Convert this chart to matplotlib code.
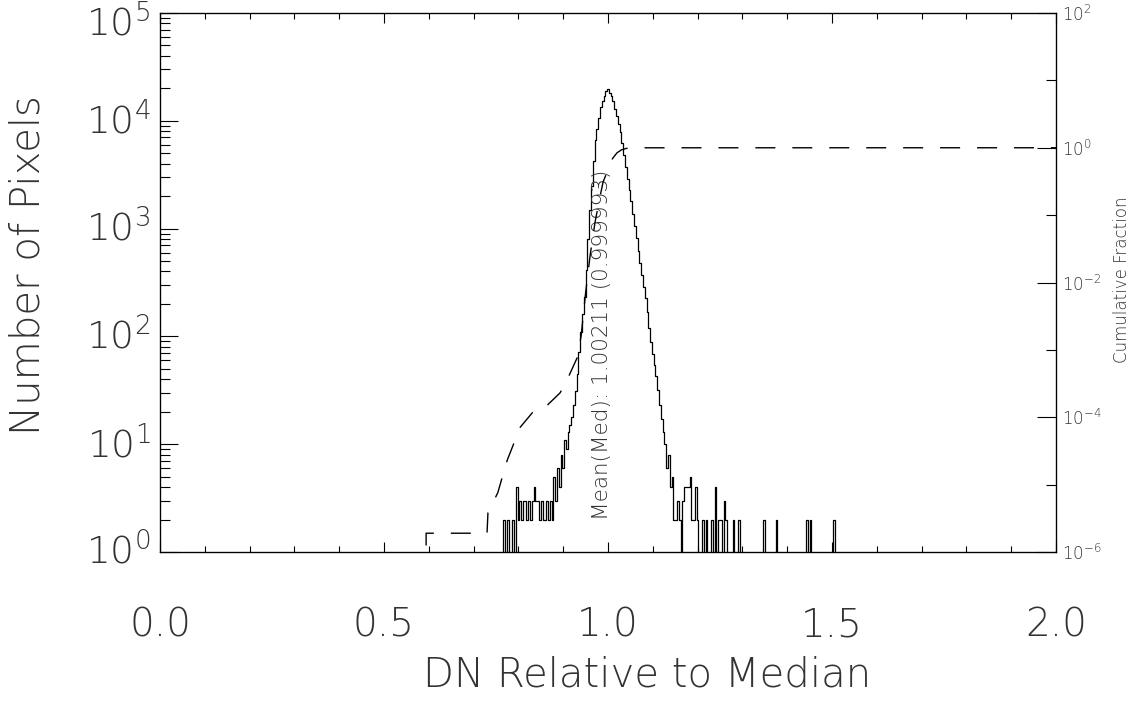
import numpy as np
import matplotlib
matplotlib.use('Agg')
import matplotlib.pyplot as plt
import matplotlib.transforms as mtransforms
from matplotlib.ticker import FixedLocator, NullFormatter, MultipleLocator, LogLocator

plt.rcParams['font.family'] = 'DejaVu Sans'
plt.rcParams['font.weight'] = 'light'
plt.rcParams['mathtext.fontset'] = 'custom'
plt.rcParams['mathtext.rm'] = 'DejaVu Sans:light'
plt.rcParams['mathtext.it'] = 'DejaVu Sans:light'
plt.rcParams['text.color'] = '#333333'

# histogram (bin width 0.004), core part
bin_width = 0.004
grid_start = 0.502
grid_end = 1.602
core_start = 0.870
core_counts = [3, 2, 5, 3, 6, 4, 8, 6, 11, 9,
               13, 15, 18, 23, 31, 45, 71, 110, 162, 234,
               417, 794, 1500, 2500, 4270, 6700, 8400, 10600, 13300, 15300,
               17000, 18900, 19900, 18200, 17100, 15300, 13000, 11000, 9400, 7900,
               6200, 4800, 3700, 2900, 2300, 1800, 1360, 1050, 810, 620,
               480, 370, 290, 225, 170, 120, 89, 69, 54, 43,
               32, 23, 17, 13, 10, 6, 8, 4, 5, 2]

# sparse tails (bins with 2..5 pixels)
left_tail_x = [0.768, 0.776, 0.788, 0.796, 0.800, 0.804, 0.808, 0.812, 0.816, 0.820, 0.824,
               0.828, 0.832, 0.836, 0.840, 0.844, 0.848, 0.852, 0.856, 0.860, 0.864, 0.868]
left_tail_n = [2, 2, 2, 4, 2, 3, 2, 3, 3, 2, 3,
               2, 3, 4, 3, 3, 2, 3, 2, 2, 3, 2]
right_tail_x = [1.152, 1.156, 1.160, 1.168, 1.172, 1.176, 1.180, 1.184, 1.188, 1.192, 1.196,
                1.200, 1.212, 1.220, 1.232, 1.240, 1.248, 1.252, 1.260, 1.264, 1.280, 1.292,
                1.348, 1.376, 1.444, 1.452, 1.504]
right_tail_n = [2, 3, 2, 3, 4, 4, 4, 5, 2, 2, 4,
                2, 2, 2, 2, 4, 2, 2, 3, 2, 2, 2,
                2, 2, 2, 2, 2]

# cumulative fraction (right axis)
cum_x = [0.594, 0.594, 0.730, 0.732, 0.754, 0.775, 0.804, 0.837, 0.864, 0.893, 0.908, 0.931,
         0.940, 0.950, 0.960, 0.971, 0.980, 0.989, 1.004, 1.010, 1.020, 1.030, 1.040, 1.050,
         1.070, 2.000]
cum_frac = [1e-7, 1.9e-6, 1.9e-6, 3.8e-6, 7.6e-6, 2.3e-5, 7.1e-5, 1.3e-4, 1.5e-4, 2.3e-4, 3.5e-4, 7.6e-4,
            1.6e-3, 7e-3, 2.5e-2, 7.8e-2, 0.16, 0.31, 0.55, 0.69, 0.84, 0.93, 0.975, 0.993,
            0.999, 1.0]

x_ticks = [0.0, 0.5, 1.0, 1.5, 2.0]
x_ticklabels = ['0.0', '0.5', '1.0', '1.5', '2.0']
y_exps = [0, 1, 2, 3, 4, 5]
cum_exps = [-6, -4, -2, 0, 2]
annot = 'Mean(Med): 1.00211 (0.999993)'

edges = np.arange(grid_start, grid_end + 1e-9, bin_width)
counts = np.zeros(len(edges) - 1)
i0 = int(round((core_start - grid_start) / bin_width))
counts[i0:i0 + len(core_counts)] = core_counts
for x, n in zip(left_tail_x + right_tail_x, left_tail_n + right_tail_n):
    counts[np.searchsorted(edges, x) - 1] = n

fig = plt.figure(figsize=(11.34, 7.12), dpi=100)
ax = fig.add_axes([160 / 1134, 1 - 552 / 712, 896 / 1134, 539 / 712])
ax.step(edges, np.append(counts, counts[-1]), where='post', color='black', lw=0.9)
ax.set_yscale('log')
ax.set_xlim(0, 2)
ax.set_ylim(1, 1e5)

ax.set_xticks(x_ticks)
ax.set_xticklabels(x_ticklabels)
ax.xaxis.set_minor_locator(MultipleLocator(0.1))
ax.set_yticks([10.0 ** k for k in y_exps])
ax.set_yticklabels([r'$10^{%d}$' % k for k in y_exps])
ax.yaxis.set_minor_locator(LogLocator(base=10, subs=np.arange(2, 10)))
ax.yaxis.set_minor_formatter(NullFormatter())
ax.tick_params(axis='x', which='both', direction='in', top=True, bottom=True, width=0.8)
ax.tick_params(axis='x', which='major', length=7.5, pad=39, labelsize=28, labelcolor='#333333')
ax.tick_params(axis='x', which='minor', length=4.5)
ax.tick_params(axis='y', which='both', direction='in', left=True, right=False, width=0.8)
ax.tick_params(axis='y', which='major', length=13, pad=7, labelsize=27, labelcolor='#333333')
ax.tick_params(axis='y', which='minor', length=7)
for s in ax.spines.values():
    s.set_linewidth(0.9)
ylabels = ax.get_yticklabels()
for lab in ylabels:
    lab.set_va('center')
# top label sits at the figure edge, push it down a little
ylabels[-1].set_transform(ylabels[-1].get_transform()
                          + mtransforms.ScaledTranslation(0, -7 / 72, fig.dpi_scale_trans))

ax2 = ax.twinx()
ax2.plot(cum_x, cum_frac, color='black', lw=1.0, dashes=(14.4, 12.2))
ax2.set_yscale('log')
ax2.set_ylim(1e-6, 1e2)
ax2.set_yticks([10.0 ** k for k in cum_exps])
ax2.set_yticklabels([r'$10^{%d}$' % k for k in cum_exps])
ax2.yaxis.set_minor_locator(FixedLocator([1e-5, 1e-3, 1e-1, 1e1]))
ax2.yaxis.set_minor_formatter(NullFormatter())
ax2.tick_params(axis='y', which='both', direction='in', width=0.8)
ax2.tick_params(axis='y', which='major', length=14, pad=4, labelsize=12, labelcolor='#333333')
ax2.tick_params(axis='y', which='minor', length=7)

trans = mtransforms.blended_transform_factory(ax.transData, ax.transAxes)
ax.text(1.008, 0.059, annot, transform=trans, rotation=90, ha='right', va='bottom', fontsize=15.5)

fig.text(28 / 1134, 1 - 265 / 712, 'Number of Pixels', rotation=90, ha='center', va='center', fontsize=29)
fig.text(647 / 1134, 1 - 675 / 712, 'DN Relative to Median', ha='center', va='center', fontsize=29)
fig.text(1122 / 1134, 1 - 280 / 712, 'Cumulative Fraction', rotation=90, ha='center', va='center', fontsize=12)

fig.savefig('out.png', dpi=100)
